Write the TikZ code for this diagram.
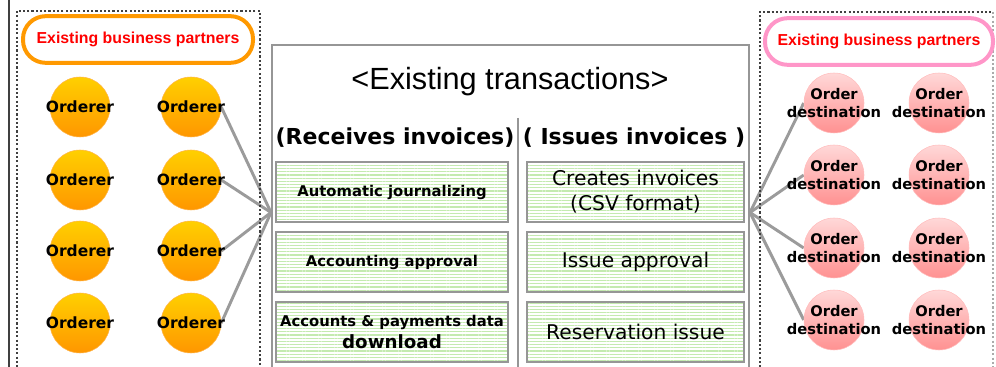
\documentclass[tikz,border=0pt]{standalone}
\usepackage{fontspec}
\setmainfont{DejaVu Sans}
\newfontfamily\arialfont{Liberation Sans}
\usetikzlibrary{patterns.meta,backgrounds}

\definecolor{ordtop}{RGB}{255,208,0}
\definecolor{ordbot}{RGB}{255,150,0}
\definecolor{dsttop}{RGB}{255,216,216}
\definecolor{dstbot}{RGB}{255,145,145}
\definecolor{pillorange}{RGB}{255,153,0}
\definecolor{pillpink}{RGB}{255,150,200}
\definecolor{stripe}{RGB}{196,234,176}
\definecolor{frame}{RGB}{150,150,150}
\definecolor{linkgray}{RGB}{155,155,155}
\definecolor{rule}{RGB}{64,64,64}

\tikzset{
  orderer/.style={circle, minimum size=45pt, inner sep=0pt, top color=ordtop, bottom color=ordbot,
    draw=ordbot!70!white, line width=0.4pt,
    label={[font=\fontsize{11.6}{13}\selectfont\bfseries]center:Orderer}},
  orderdst/.style={circle, minimum size=45pt, inner sep=0pt, top color=dsttop, bottom color=dstbot,
    draw=dstbot!60!white, line width=0.4pt,
    label={[align=center, font=\fontsize{11}{13.5}\selectfont\bfseries]center:Order\\destination}},
  pill/.style={rectangle, rounded corners=17pt, minimum height=35pt, line width=3pt, fill=white,
    text=red, font=\arialfont\fontsize{11.9}{14}\selectfont\bfseries},
  taskbox/.style={draw=frame, line width=1.5pt, minimum height=45pt, align=center, inner sep=1pt,
    pattern={Lines[angle=0,distance=2.4pt,line width=1pt]}, pattern color=stripe},
  hdr/.style={font=\fontsize{16.5}{19}\selectfont\bfseries},
  dotbox/.style={draw=rule, line width=1.6pt, dash pattern=on 1.6pt off 1.6pt},
  link/.style={draw=linkgray, line width=2.2pt},
}

\begin{document}
\begin{tikzpicture}[x=0.75pt, y=-0.75pt]

	\useasboundingbox (0,0) rectangle (996,367);
	\clip (0,0) rectangle (996,367);

	\draw[rule, line width=1.5pt] (9,0) -- (9,367);

	% left side: orderers
	\draw[dotbox] (17,11) rectangle (260,380);
	\node[pill, draw=pillorange, minimum width=172.5pt] (ptnL) at (138,39.5) {Existing business partners};

	\node[orderer] (ordA1) at (80,107) {};
	\node[orderer] (ordA2) at (80,180) {};
	\node[orderer] (ordA3) at (80,251) {};
	\node[orderer] (ordA4) at (80,323) {};
	\node[orderer] (ordB1) at (191,107) {};
	\node[orderer] (ordB2) at (191,180) {};
	\node[orderer] (ordB3) at (191,251) {};
	\node[orderer] (ordB4) at (191,323) {};

	% middle: existing transactions
	\node[draw=frame, line width=1.5pt, minimum width=357.75pt, minimum height=251.25pt] (trans) at (510.5,212.5) {};
	\node[font=\arialfont\fontsize{23}{26}\selectfont] (title) at (510,82) {<Existing transactions>};
	\draw[frame, line width=1.5pt] (518,118) -- (518,380);

	\node[hdr] (recvHdr) at (395,138) {(Receives invoices)};
	\node[hdr] (issHdr) at (634,138) {( Issues invoices )};

	\node[taskbox, minimum width=174pt, font=\fontsize{11.1}{13}\selectfont\bfseries] (journal) at (392,192) {Automatic journalizing};
	\node[taskbox, minimum width=174pt, font=\fontsize{11.1}{13}\selectfont\bfseries] (acctAppr) at (392,262) {Accounting approval};
	\node[taskbox, minimum width=174pt, font=\bfseries] (download) at (392,332)
		{\fontsize{11.1}{17}\selectfont Accounts \& payments data\\[2pt]\fontsize{13.7}{17}\selectfont download};

	\node[taskbox, minimum width=162.75pt, font=\fontsize{15.2}{18.75}\selectfont] (create) at (635.5,192) {Creates invoices\\(CSV format)};
	\node[taskbox, minimum width=162.75pt, font=\fontsize{15.2}{18.75}\selectfont] (issAppr) at (635.5,262) {Issue approval};
	\node[taskbox, minimum width=162.75pt, font=\fontsize{15.2}{18.75}\selectfont] (reserve) at (635.5,332) {Reservation issue};

	% right side: order destinations
	\draw[dotbox] (760,380) -- (760,12) -- (993,12);
	\draw[dotbox, draw=frame!80!white, line width=1pt] (993,12) -- (993,380);
	\node[pill, draw=pillpink, minimum width=171pt] (ptnR) at (879,41.5) {Existing business partners};

	\node[orderdst] (dstA1) at (834,103) {};
	\node[orderdst] (dstA2) at (834,175) {};
	\node[orderdst] (dstA3) at (834,248) {};
	\node[orderdst] (dstA4) at (834,320) {};
	\node[orderdst] (dstB1) at (939,103) {};
	\node[orderdst] (dstB2) at (939,175) {};
	\node[orderdst] (dstB3) at (939,248) {};
	\node[orderdst] (dstB4) at (939,320) {};

	% connectors, kept under the circles
	\begin{scope}[on background layer]
	\draw[link] (ordB1.east) -- (trans.west);
	\draw[link] (ordB2.east) -- (trans.west);
	\draw[link] (ordB3.east) -- (trans.west);
	\draw[link] (ordB4.east) -- (trans.west);
	\draw[link] (trans.east) -- (dstA1.west);
	\draw[link] (trans.east) -- (dstA2.west);
	\draw[link] (trans.east) -- (dstA3.west);
	\draw[link] (trans.east) -- (dstA4.west);
	\end{scope}

\end{tikzpicture}
\end{document}
